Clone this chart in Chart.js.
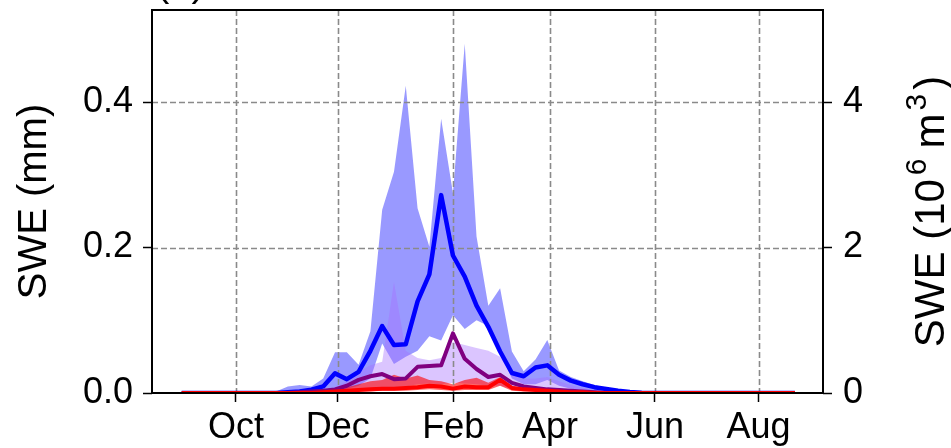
<!DOCTYPE html>
<html><head><meta charset="utf-8">
<script src="https://cdn.jsdelivr.net/npm/chart.js@4/dist/chart.umd.min.js"></script>
<style>html,body{margin:0;padding:0;background:#fff}#wrap{width:951px;height:448px}</style>
</head><body><div id="wrap"><canvas id="c" width="951" height="448"></canvas></div>
<script>
// ---- data (weekly points, index 0..52) ----
const weekIndex = [0,1,2,3,4,5,6,7,8,9,10,11,12,13,14,15,16,17,18,19,20,21,22,23,24,25,26,27,28,29,30,31,32,33,34,35,36,37,38,39,40,41,42,43,44,45,46,47,48,49,50,51,52];
const blueMean = [0,0,0,0,0,0,0,0,0,0.001,0.002,0.0045,0.009,0.027,0.019,0.029,0.058,0.092,0.066,0.067,0.126,0.163,0.272,0.189,0.160,0.120,0.091,0.057,0.0275,0.023,0.035,0.038,0.025,0.017,0.012,0.008,0.0055,0.003,0.0015,0.0005,0,0,0,0,0,0,0,0,0,0,0,0,0];
const blueLow  = [0,0,0,0,0,0,0,0,0,0,0,0,0.002,0.005,0.006,0.01,0.02,0.068,0.04,0.05,0.058,0.078,0.072,0.107,0.088,0.1,0.092,0.055,0.02,0.012,0.012,0.018,0.01,0.006,0.004,0.002,0.001,0,0,0,0,0,0,0,0,0,0,0,0,0,0,0,0];
const blueHigh = [0,0,0,0,0,0,0,0,0.002,0.009,0.011,0.009,0.02,0.056,0.056,0.039,0.085,0.252,0.304,0.4225,0.254,0.201,0.377,0.275,0.48,0.215,0.12,0.144,0.057,0.03,0.046,0.073,0.031,0.022,0.016,0.011,0.007,0.004,0.002,0.001,0,0,0,0,0,0,0,0,0,0,0,0,0];
const purpleMean = [0,0,0,0,0,0,0,0,0,0,0.001,0.002,0.003,0.005,0.01,0.018,0.023,0.026,0.019,0.02,0.036,0.037,0.038,0.082,0.047,0.033,0.022,0.025,0.014,0.009,0.007,0.005,0.004,0.003,0.002,0.001,0,0,0,0,0,0,0,0,0,0,0,0,0,0,0,0,0];
const purpleLow  = [0,0,0,0,0,0,0,0,0,0,0,0,0,0,0.002,0.004,0.006,0.008,0.008,0.009,0.012,0.013,0.012,0.014,0.013,0.012,0.01,0.01,0.005,0.003,0.002,0.002,0.001,0,0,0,0,0,0,0,0,0,0,0,0,0,0,0,0,0,0,0,0];
const purpleHigh = [0,0,0,0,0,0,0,0,0,0,0,0.002,0.004,0.008,0.016,0.03,0.038,0.043,0.153,0.058,0.048,0.045,0.048,0.07,0.066,0.062,0.058,0.05,0.03,0.02,0.02,0.022,0.016,0.011,0.007,0.004,0.002,0.001,0,0,0,0,0,0,0,0,0,0,0,0,0,0,0];
const redMean = [0,0,0,0,0,0,0,0,0,0,0,0,0.001,0.002,0.003,0.004,0.005,0.006,0.006,0.007,0.008,0.01,0.009,0.006,0.009,0.008,0.008,0.018,0.007,0.005,0.004,0.003,0.002,0.001,0.001,0,0,0,0,0,0,0,0,0,0,0,0,0,0,0,0,0,0];
const redLow  = [0,0,0,0,0,0,0,0,0,0,0,0,0,0.001,0.001,0.002,0.002,0.003,0.003,0.003,0.004,0.005,0.004,0.003,0.004,0.004,0.004,0.01,0.003,0.002,0.002,0.001,0.001,0,0,0,0,0,0,0,0,0,0,0,0,0,0,0,0,0,0,0,0];
const redHigh = [0,0,0,0,0,0,0,0,0,0,0,0,0.002,0.004,0.008,0.012,0.016,0.018,0.025,0.02,0.024,0.018,0.016,0.012,0.018,0.021,0.014,0.022,0.01,0.007,0.006,0.006,0.004,0.003,0.002,0.001,0,0,0,0,0,0,0,0,0,0,0,0,0,0,0,0,0];
// ---- tick labels ----
const monthLabels = ['Oct','Dec','Feb','Apr','Jun','Aug'];
const monthTickPos = [4.60, 13.23, 23.03, 31.23, 40.13, 48.92];
const leftTicks = [0, 0.2, 0.4];
const rightTicks = [0, 2, 4];
const leftTitle = 'SWE (mm)';
const panelLabel = '(a)';

const FONT = '"Liberation Sans", Arial, Helvetica, sans-serif';
const TICK_SIZE = 36;
const TITLE_SIZE = 40;
const pts = arr => arr.map((v, i) => ({x: weekIndex[i], y: v}));
const band = (data, extra) => Object.assign({data: pts(data), borderWidth: 0, borderColor: 'rgba(0,0,0,0)', pointRadius: 0, yAxisID: 'y', tension: 0}, extra);

const gridAndFrame = {
  id: 'gridAndFrame',
  beforeDatasetsDraw(chart) {
    const {ctx, chartArea: a, scales} = chart;
    ctx.save();
    ctx.strokeStyle = '#8a8a8a';
    ctx.lineWidth = 1.6;
    ctx.setLineDash([6, 3]);
    monthTickPos.forEach(v => {
      const px = Math.round(scales.x.getPixelForValue(v)) + 0.5;
      ctx.beginPath(); ctx.moveTo(px, a.top); ctx.lineTo(px, a.bottom); ctx.stroke();
    });
    leftTicks.slice(1).forEach(v => {
      const py = Math.round(scales.y.getPixelForValue(v)) + 0.5;
      ctx.beginPath(); ctx.moveTo(a.left, py); ctx.lineTo(a.right, py); ctx.stroke();
    });
    ctx.restore();
  },
  afterDraw(chart) {
    const {ctx, chartArea: a} = chart;
    ctx.save();
    ctx.strokeStyle = '#000';
    ctx.lineWidth = 2;
    ctx.strokeRect(a.left, a.top, a.right - a.left, a.bottom - a.top);
    const cy = (a.top + a.bottom) / 2;
    ctx.fillStyle = '#000';
    // left title
    ctx.save();
    ctx.translate(46, cy);
    ctx.rotate(-Math.PI / 2);
    ctx.font = TITLE_SIZE + 'px ' + FONT;
    ctx.textAlign = 'left';
    ctx.textBaseline = 'alphabetic';
    const lw = ctx.measureText(leftTitle).width;
    ctx.fillText(leftTitle, -lw / 2, 0);
    ctx.restore();
    // right title with superscripts: SWE (10^6 m^3)
    ctx.save();
    ctx.translate(944, cy + 10);
    ctx.rotate(-Math.PI / 2);
    ctx.textBaseline = 'alphabetic';
    ctx.textAlign = 'left';
    const big = '42px ' + FONT, small = '30px ' + FONT;
    // [text, font, raise, gapBefore]
    const parts = [['SWE (10', big, 0, 0], ['6', small, -18, 4], ['m', big, 0, 10], ['3', small, -18, 3], [')', big, 0, 4]];
    let w = 0;
    parts.forEach(p => { ctx.font = p[1]; w += p[3] + ctx.measureText(p[0]).width; });
    let x = -w / 2;
    parts.forEach(p => { ctx.font = p[1]; x += p[3]; ctx.fillText(p[0], x, p[2]); x += ctx.measureText(p[0]).width; });
    ctx.restore();
    // panel label (mostly clipped at top)
    ctx.font = TITLE_SIZE + 'px ' + FONT;
    ctx.textAlign = 'left';
    ctx.textBaseline = 'alphabetic';
    ctx.fillText(panelLabel, 156, -4);
    ctx.restore();
  }
};

new Chart(document.getElementById('c'), {
  type: 'line',
  data: {
    datasets: [
      band(blueLow, {order: 20, fill: false}),
      band(blueHigh, {order: 19, fill: {target: 0}, backgroundColor: 'rgba(0,0,255,0.4)'}),
      band(purpleLow, {order: 18, fill: false}),
      band(purpleHigh, {order: 17, fill: {target: 2}, backgroundColor: 'rgba(165,110,255,0.4)'}),
      band(redLow, {order: 16, fill: false}),
      band(redHigh, {order: 15, fill: {target: 4}, backgroundColor: 'rgba(255,0,0,0.6)'}),
      {data: pts(blueMean), borderColor: '#0000ff', borderWidth: 4.5, pointRadius: 0, fill: false, order: 3, tension: 0, borderJoinStyle: 'round'},
      {data: pts(purpleMean), borderColor: '#800080', borderWidth: 4, pointRadius: 0, fill: false, order: 2, tension: 0, borderJoinStyle: 'round'},
      {data: pts(redMean), borderColor: '#ff0000', borderWidth: 4, pointRadius: 0, fill: false, order: 1, tension: 0, borderJoinStyle: 'round'}
    ]
  },
  options: {
    responsive: false,
    animation: false,
    devicePixelRatio: 1,
    layout: {padding: {top: 10, left: 0, right: 0, bottom: 0}},
    plugins: {legend: {display: false}, tooltip: {enabled: false}, filler: {drawTime: 'beforeDatasetsDraw'}},
    scales: {
      x: {
        type: 'linear', min: -2.52, max: 54.38,
        afterBuildTicks: s => { s.ticks = monthTickPos.map(v => ({value: v})); },
        afterFit: s => { s.height = 55; s.paddingLeft = 0; s.paddingRight = 0; },
        ticks: {
          callback: (v) => { const i = monthTickPos.indexOf(v); return i >= 0 ? monthLabels[i] : ''; },
          font: {family: FONT, size: TICK_SIZE}, color: '#000', padding: 4, maxRotation: 0, autoSkip: false
        },
        grid: {drawOnChartArea: false, drawTicks: true, tickLength: 9, tickColor: '#000', tickWidth: 1.5},
        border: {display: false}
      },
      y: {
        type: 'linear', position: 'left', min: 0, max: 0.5265,
        afterBuildTicks: s => { s.ticks = leftTicks.map(v => ({value: v})); },
        afterFit: s => { s.width = 152; s.paddingTop = 0; s.paddingBottom = 0; },
        ticks: {callback: v => v.toFixed(1), font: {family: FONT, size: TICK_SIZE}, color: '#000', padding: 10},
        grid: {drawOnChartArea: false, drawTicks: true, tickLength: 9, tickColor: '#000', tickWidth: 1.5},
        border: {display: false}
      },
      y2: {
        type: 'linear', position: 'right', min: 0, max: 5.265,
        afterBuildTicks: s => { s.ticks = rightTicks.map(v => ({value: v})); },
        afterFit: s => { s.width = 128; s.paddingTop = 0; s.paddingBottom = 0; },
        ticks: {callback: v => String(v), font: {family: FONT, size: TICK_SIZE}, color: '#000', padding: 11},
        grid: {drawOnChartArea: false, drawTicks: true, tickLength: 9, tickColor: '#000', tickWidth: 1.5},
        border: {display: false}
      }
    }
  },
  plugins: [gridAndFrame]
});
</script>
</body></html>
